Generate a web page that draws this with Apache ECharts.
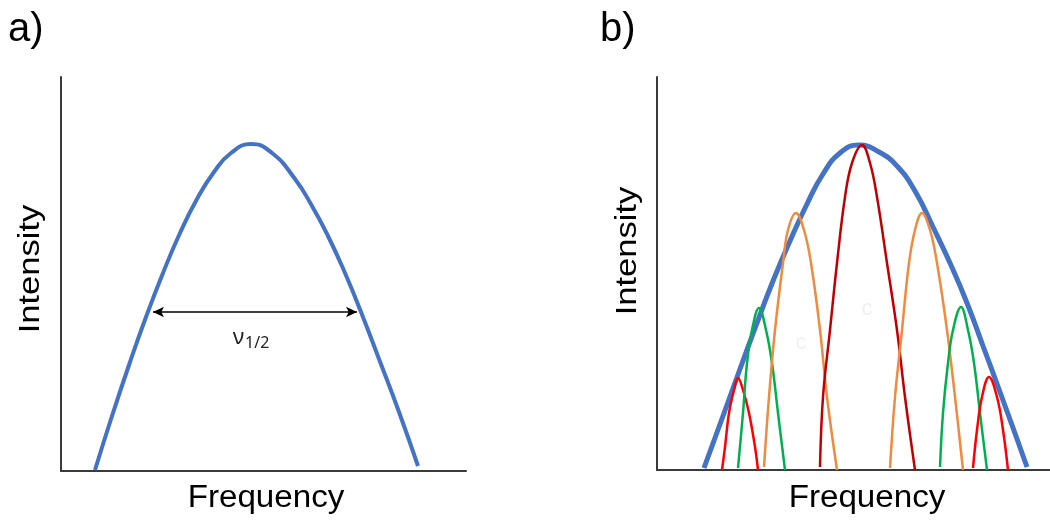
<!DOCTYPE html>
<html>
<head>
<meta charset="utf-8">
<title>Line broadening</title>
<script src="https://cdn.jsdelivr.net/npm/echarts@6/dist/echarts.min.js"></script>
<style>
  html, body { margin: 0; padding: 0; background: #fff; }
  #chart { width: 1050px; height: 520px; }
</style>
</head>
<body>
<div id="chart"></div>
<script>
// values, arbitrary units (x = frequency, y = intensity)
const aEnvelope = [[34,1],[51,55],[68,106],[85,154],[102,198],[119,238],[136,272],[153,299],[170,318],[190,327],[211,318],[234,292],[251,265],[267,235],[284,198],[300,159],[318,112],[338,59],[357,5]];
const aHalfWidth = [[92,159],[296,159]];

const bEnvelope = [[47,2],[66,54],[83,101],[100,147],[116,189],[133,229],[150,266],[166,296],[183,317],[202,325],[222,318],[240,304],[258,279],[276,243],[293,207],[310,167],[326,124],[343,78],[360,31],[370,3]];
const bRed1 = [[65,0],[68,23],[72,57],[77,80],[81,92],[86,80],[92,57],[98,23],[101,0]];
const bGreen1 = [[81,2],[86,57],[90,107],[95,140],[102,162],[109,140],[115,107],[121,57],[128,0]];
const bOrange1 = [[107,3],[112,73],[118,140],[126,207],[131,240],[139,257],[147,240],[154,207],[163,140],[170,73],[180,0]];
const bDarkRed = [[163,3],[166,73],[173,140],[180,207],[188,273],[195,307],[205,325],[213,307],[220,273],[230,207],[240,140],[248,73],[258,0]];
const bOrange2 = [[233,2],[238,73],[245,140],[252,207],[258,240],[265,257],[273,240],[280,207],[290,140],[298,73],[306,0]];
const bGreen2 = [[283,3],[286,57],[291,107],[296,140],[304,163],[311,140],[317,107],[323,57],[330,0]];
const bRed2 = [[316,2],[320,40],[325,73],[332,93],[340,73],[346,40],[351,0]];

const axisColor = '#3a3a3a';
const labelFont = 'Liberation Sans, Arial, sans-serif';

const chartInstance = echarts.init(document.getElementById('chart'), null, { renderer: 'canvas' });

function plainAxis(max, gridIndex) {
  return {
    type: 'value',
    gridIndex: gridIndex,
    min: 0,
    max: max,
    axisLine: { show: true, lineStyle: { color: axisColor, width: 2 } },
    axisTick: { show: false },
    axisLabel: { show: false },
    splitLine: { show: false }
  };
}

function curve(data, color, width, idx, smooth) {
  return {
    type: 'line',
    xAxisIndex: idx,
    yAxisIndex: idx,
    data: data,
    smooth: smooth,
    showSymbol: false,
    silent: true,
    clip: false,
    lineStyle: { color: color, width: width }
  };
}

const blueA = curve(aEnvelope, '#4472C4', 4, 0, 0.5);
blueA.markLine = {
  silent: true,
  symbol: ['arrow', 'arrow'],
  symbolSize: [8, 11],
  label: { show: false },
  lineStyle: { color: '#000', width: 1.5, type: 'solid' },
  data: [[{ coord: aHalfWidth[0] }, { coord: aHalfWidth[1] }]]
};

const option = {
  animation: false,
  backgroundColor: '#fff',
  grid: [
    { left: 61, top: 77, width: 405, height: 394 },
    { left: 657, top: 77, width: 393, height: 393 }
  ],
  xAxis: [plainAxis(405, 0), plainAxis(393, 1)],
  yAxis: [plainAxis(394, 0), plainAxis(393, 1)],
  series: [
    blueA,
    curve(bEnvelope, '#4472C4', 5, 1, 0.5),
    curve(bRed1, '#FF0000', 2.5, 1, 0.4),
    curve(bGreen1, '#00B050', 2.5, 1, 0.4),
    curve(bOrange1, '#F08A3E', 2.5, 1, 0.4),
    curve(bDarkRed, '#C00000', 2.5, 1, 0.4),
    curve(bOrange2, '#F08A3E', 2.5, 1, 0.4),
    curve(bGreen2, '#00B050', 2.5, 1, 0.4),
    curve(bRed2, '#FF0000', 2.5, 1, 0.4)
  ],
  graphic: [
    { type: 'text', x: 8, y: 30, style: { text: 'a)', fill: '#000', font: '40px ' + labelFont, align: 'left', verticalAlign: 'middle' } },
    { type: 'text', x: 600, y: 30, style: { text: 'b)', fill: '#000', font: '40px ' + labelFont, align: 'left', verticalAlign: 'middle' } },
    { type: 'text', x: 266, y: 498, scaleX: 1.07, style: { text: 'Frequency', fill: '#000', font: '31px ' + labelFont, align: 'center', verticalAlign: 'middle' } },
    { type: 'text', x: 867, y: 498, scaleX: 1.07, style: { text: 'Frequency', fill: '#000', font: '31px ' + labelFont, align: 'center', verticalAlign: 'middle' } },
    { type: 'text', x: 31, y: 269, rotation: Math.PI / 2, scaleX: 1.15, style: { text: 'Intensity', fill: '#000', font: '30px ' + labelFont, align: 'center', verticalAlign: 'middle' } },
    { type: 'text', x: 628, y: 251, rotation: Math.PI / 2, scaleX: 1.15, style: { text: 'Intensity', fill: '#000', font: '30px ' + labelFont, align: 'center', verticalAlign: 'middle' } },
    // ν1/2 label under the arrow
    {
      type: 'text', x: 251, y: 338,
      style: {
        text: '{v|ν}{s|1/2}', fill: '#222', align: 'center', verticalAlign: 'middle',
        rich: {
          v: { fontSize: 22, fontFamily: 'Noto Sans', fill: '#222' },
          s: { fontSize: 16, fontFamily: 'Noto Sans', fill: '#222', padding: [11, 0, 0, 1] }
        }
      }
    },
    // faint ghost letters in panel b
    { type: 'text', x: 801, y: 343, style: { text: 'c', fill: '#f1f1f1', font: '22px ' + labelFont, align: 'center', verticalAlign: 'middle' } },
    { type: 'text', x: 867, y: 309, style: { text: 'c', fill: '#f1f1f1', font: '22px ' + labelFont, align: 'center', verticalAlign: 'middle' } }
  ]
};

chartInstance.setOption(option);
</script>
</body>
</html>
